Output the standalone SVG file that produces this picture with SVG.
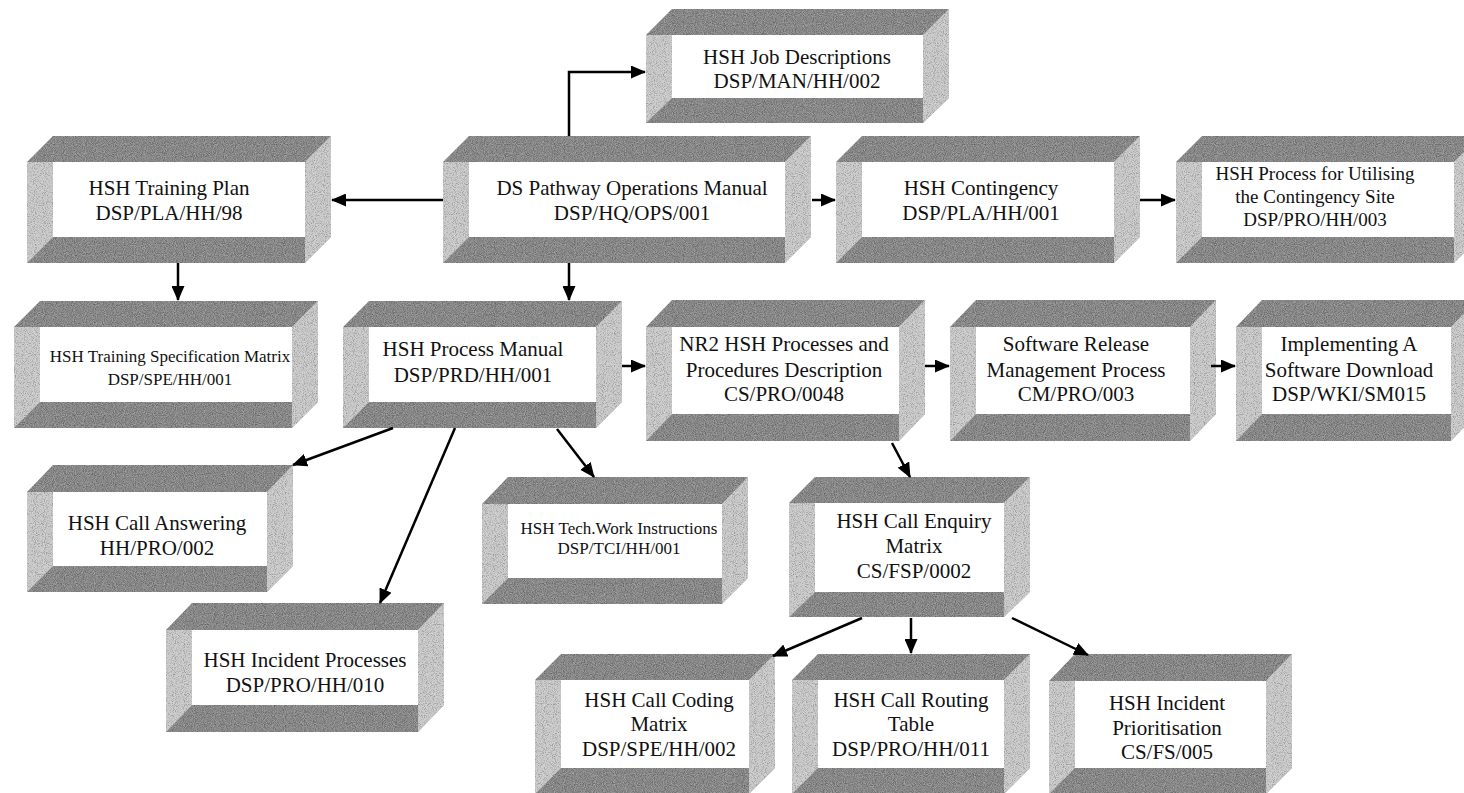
<svg xmlns="http://www.w3.org/2000/svg" width="1464" height="793" viewBox="0 0 1464 793">
<style>
.dk{fill:#878787;filter:url(#grain)}
.lt{fill:#c8c8c8;filter:url(#grain)}
.fr{fill:#ffffff}
.t{font-family:"Liberation Serif","Times New Roman",serif;font-size:21px;fill:#111;text-anchor:middle}
.s17{font-size:17px}
.s19{font-size:19px}
.c{fill:none;stroke:#000;stroke-width:2.5}
</style>
<defs>
<filter id="grain" x="0" y="0" width="1" height="1" color-interpolation-filters="sRGB">
<feTurbulence type="fractalNoise" baseFrequency="1.1" numOctaves="1" seed="4" result="n"/>
<feColorMatrix in="n" type="matrix" values="0.45 0 0 0 0.275  0.45 0 0 0 0.275  0.45 0 0 0 0.275  0 0 0 0 1" result="g"/>
<feBlend in="SourceGraphic" in2="g" mode="overlay" result="b"/>
<feComposite in="b" in2="SourceGraphic" operator="in"/>
</filter>
<marker id="ah" markerUnits="userSpaceOnUse" markerWidth="15" markerHeight="13" refX="14" refY="6.5" orient="auto">
<path d="M0,0 L15,6.5 L0,13 z" fill="#000"/>
</marker>
</defs>
<rect width="1464" height="793" fill="#fff"/>

<g id="job">
<polygon class="dk" points="646,35 672,9 949,9 923,35"/>
<polygon class="lt" points="923,35 949,9 949,98 923,123"/>
<polygon class="lt" points="646,35 672,35 672,98 646,123"/>
<polygon class="dk" points="646,123 672,98 923,98 923,123"/>
<rect class="fr" x="672" y="35" width="251" height="63"/>
<text class="t" x="797" y="64">HSH Job Descriptions</text>
<text class="t" x="797" y="88">DSP/MAN/HH/002</text>
</g>

<g id="train">
<polygon class="dk" points="27,162 53,136 331,136 305,162"/>
<polygon class="lt" points="305,162 331,136 331,237 305,263"/>
<polygon class="lt" points="27,162 53,162 53,237 27,263"/>
<polygon class="dk" points="27,263 53,237 305,237 305,263"/>
<rect class="fr" x="53" y="162" width="252" height="75"/>
<text class="t" x="169" y="195">HSH Training Plan</text>
<text class="t" x="169" y="220">DSP/PLA/HH/98</text>
</g>

<g id="dsp">
<polygon class="dk" points="443,162 469,136 811,136 785,162"/>
<polygon class="lt" points="785,162 811,136 811,237 785,263"/>
<polygon class="lt" points="443,162 469,162 469,237 443,263"/>
<polygon class="dk" points="443,263 469,237 785,237 785,263"/>
<rect class="fr" x="469" y="162" width="316" height="75"/>
<text class="t" x="632" y="195">DS Pathway Operations Manual</text>
<text class="t" x="632" y="220">DSP/HQ/OPS/001</text>
</g>

<g id="cont">
<polygon class="dk" points="836,162 862,136 1140,136 1114,162"/>
<polygon class="lt" points="1114,162 1140,136 1140,237 1114,263"/>
<polygon class="lt" points="836,162 862,162 862,237 836,263"/>
<polygon class="dk" points="836,263 862,237 1114,237 1114,263"/>
<rect class="fr" x="862" y="162" width="252" height="75"/>
<text class="t" x="981" y="195">HSH Contingency</text>
<text class="t" x="981" y="220">DSP/PLA/HH/001</text>
</g>

<g id="util">
<polygon class="dk" points="1176,162 1202,136 1480,136 1454,162"/>
<polygon class="lt" points="1454,162 1480,136 1480,237 1454,263"/>
<polygon class="lt" points="1176,162 1202,162 1202,237 1176,263"/>
<polygon class="dk" points="1176,263 1202,237 1454,237 1454,263"/>
<rect class="fr" x="1202" y="162" width="252" height="75"/>
<text class="t s19" x="1315" y="180">HSH Process for Utilising</text>
<text class="t s19" x="1315" y="203">the Contingency Site</text>
<text class="t s19" x="1315" y="226">DSP/PRO/HH/003</text>
</g>

<g id="spec">
<polygon class="dk" points="14,327 40,301 318,301 292,327"/>
<polygon class="lt" points="292,327 318,301 318,402 292,428"/>
<polygon class="lt" points="14,327 40,327 40,402 14,428"/>
<polygon class="dk" points="14,428 40,402 292,402 292,428"/>
<rect class="fr" x="40" y="327" width="252" height="75"/>
<text class="t s17" x="170" y="362">HSH Training Specification Matrix</text>
<text class="t s17" x="170" y="385">DSP/SPE/HH/001</text>
</g>

<g id="pm">
<polygon class="dk" points="343,327 369,301 622,301 596,327"/>
<polygon class="lt" points="596,327 622,301 622,402 596,428"/>
<polygon class="lt" points="343,327 369,327 369,402 343,428"/>
<polygon class="dk" points="343,428 369,402 596,402 596,428"/>
<rect class="fr" x="369" y="327" width="227" height="75"/>
<text class="t" x="473" y="356">HSH Process Manual</text>
<text class="t" x="473" y="382">DSP/PRD/HH/001</text>
</g>

<g id="nr2">
<polygon class="dk" points="646,327 672,300 925,300 899,327"/>
<polygon class="lt" points="899,327 925,300 925,414 899,441"/>
<polygon class="lt" points="646,327 672,327 672,414 646,441"/>
<polygon class="dk" points="646,441 672,414 899,414 899,441"/>
<rect class="fr" x="672" y="327" width="227" height="87"/>
<text class="t" x="784" y="351">NR2 HSH Processes and</text>
<text class="t" x="784" y="377">Procedures Description</text>
<text class="t" x="784" y="401">CS/PRO/0048</text>
</g>

<g id="srm">
<polygon class="dk" points="950,327 976,300 1216,300 1190,327"/>
<polygon class="lt" points="1190,327 1216,300 1216,414 1190,441"/>
<polygon class="lt" points="950,327 976,327 976,414 950,441"/>
<polygon class="dk" points="950,441 976,414 1190,414 1190,441"/>
<rect class="fr" x="976" y="327" width="214" height="87"/>
<text class="t" x="1076" y="351">Software Release</text>
<text class="t" x="1076" y="377">Management Process</text>
<text class="t" x="1076" y="401">CM/PRO/003</text>
</g>

<g id="impl">
<polygon class="dk" points="1236,327 1262,300 1477,300 1451,327"/>
<polygon class="lt" points="1451,327 1477,300 1477,414 1451,441"/>
<polygon class="lt" points="1236,327 1262,327 1262,414 1236,441"/>
<polygon class="dk" points="1236,441 1262,414 1451,414 1451,441"/>
<rect class="fr" x="1262" y="327" width="189" height="87"/>
<text class="t" x="1349" y="351">Implementing A</text>
<text class="t" x="1349" y="377">Software Download</text>
<text class="t" x="1349" y="401">DSP/WKI/SM015</text>
</g>

<g id="ans">
<polygon class="dk" points="27,492 53,465 293,465 267,492"/>
<polygon class="lt" points="267,492 293,465 293,566 267,592"/>
<polygon class="lt" points="27,492 53,492 53,566 27,592"/>
<polygon class="dk" points="27,592 53,566 267,566 267,592"/>
<rect class="fr" x="53" y="492" width="214" height="74"/>
<text class="t" x="157" y="530">HSH Call Answering</text>
<text class="t" x="157" y="555">HH/PRO/002</text>
</g>

<g id="tech">
<polygon class="dk" points="482,504 508,477 748,477 722,504"/>
<polygon class="lt" points="722,504 748,477 748,578 722,604"/>
<polygon class="lt" points="482,504 508,504 508,578 482,604"/>
<polygon class="dk" points="482,604 508,578 722,578 722,604"/>
<rect class="fr" x="508" y="504" width="214" height="74"/>
<text class="t s17" x="619" y="534">HSH Tech.Work Instructions</text>
<text class="t s17" x="619" y="554">DSP/TCI/HH/001</text>
</g>

<g id="enq">
<polygon class="dk" points="789,503 815,477 1030,477 1004,503"/>
<polygon class="lt" points="1004,503 1030,477 1030,592 1004,617"/>
<polygon class="lt" points="789,503 815,503 815,592 789,617"/>
<polygon class="dk" points="789,617 815,592 1004,592 1004,617"/>
<rect class="fr" x="815" y="503" width="189" height="89"/>
<text class="t" x="914" y="528">HSH Call Enquiry</text>
<text class="t" x="914" y="553">Matrix</text>
<text class="t" x="914" y="578">CS/FSP/0002</text>
</g>

<g id="inc">
<polygon class="dk" points="166,630 192,603 444,603 418,630"/>
<polygon class="lt" points="418,630 444,603 444,705 418,732"/>
<polygon class="lt" points="166,630 192,630 192,705 166,732"/>
<polygon class="dk" points="166,732 192,705 418,705 418,732"/>
<rect class="fr" x="192" y="630" width="226" height="75"/>
<text class="t" x="305" y="667">HSH Incident Processes</text>
<text class="t" x="305" y="692">DSP/PRO/HH/010</text>
</g>

<g id="code">
<polygon class="dk" points="535,680 561,654 775,654 749,680"/>
<polygon class="lt" points="749,680 775,654 775,768 749,794"/>
<polygon class="lt" points="535,680 561,680 561,768 535,794"/>
<polygon class="dk" points="535,794 561,768 749,768 749,794"/>
<rect class="fr" x="561" y="680" width="188" height="88"/>
<text class="t" x="659" y="707">HSH Call Coding</text>
<text class="t" x="659" y="731">Matrix</text>
<text class="t" x="659" y="756">DSP/SPE/HH/002</text>
</g>

<g id="route">
<polygon class="dk" points="792,680 818,654 1030,654 1004,680"/>
<polygon class="lt" points="1004,680 1030,654 1030,768 1004,794"/>
<polygon class="lt" points="792,680 818,680 818,768 792,794"/>
<polygon class="dk" points="792,794 818,768 1004,768 1004,794"/>
<rect class="fr" x="818" y="680" width="186" height="88"/>
<text class="t" x="911" y="707">HSH Call Routing</text>
<text class="t" x="911" y="731">Table</text>
<text class="t" x="911" y="756">DSP/PRO/HH/011</text>
</g>

<g id="prio">
<polygon class="dk" points="1049,681 1075,654 1292,654 1266,681"/>
<polygon class="lt" points="1266,681 1292,654 1292,768 1266,794"/>
<polygon class="lt" points="1049,681 1075,681 1075,768 1049,794"/>
<polygon class="dk" points="1049,794 1075,768 1266,768 1266,794"/>
<rect class="fr" x="1075" y="681" width="191" height="87"/>
<text class="t" x="1167" y="710">HSH Incident</text>
<text class="t" x="1167" y="735">Prioritisation</text>
<text class="t" x="1167" y="759">CS/FS/005</text>
</g>

<g id="connectors">
<path class="c" d="M443,200 H332" marker-end="url(#ah)"/>
<path class="c" d="M569,136 V72 H645" marker-end="url(#ah)"/>
<path class="c" d="M569,263 V300" marker-end="url(#ah)"/>
<path class="c" d="M812,200 H835" marker-end="url(#ah)"/>
<path class="c" d="M1140,200 H1175" marker-end="url(#ah)"/>
<path class="c" d="M178,263 V300" marker-end="url(#ah)"/>
<path class="c" d="M622,366 H645" marker-end="url(#ah)"/>
<path class="c" d="M925,366 H949" marker-end="url(#ah)"/>
<path class="c" d="M1211,366 H1235" marker-end="url(#ah)"/>
<path class="c" d="M393,428 L293,465" marker-end="url(#ah)"/>
<path class="c" d="M455,428 L380,603" marker-end="url(#ah)"/>
<path class="c" d="M557,429 L594,477" marker-end="url(#ah)"/>
<path class="c" d="M892,443 L910,477" marker-end="url(#ah)"/>
<path class="c" d="M862,618 L773,656" marker-end="url(#ah)"/>
<path class="c" d="M911,618 V653" marker-end="url(#ah)"/>
<path class="c" d="M1012,618 L1088,655" marker-end="url(#ah)"/>
</g>
</svg>
